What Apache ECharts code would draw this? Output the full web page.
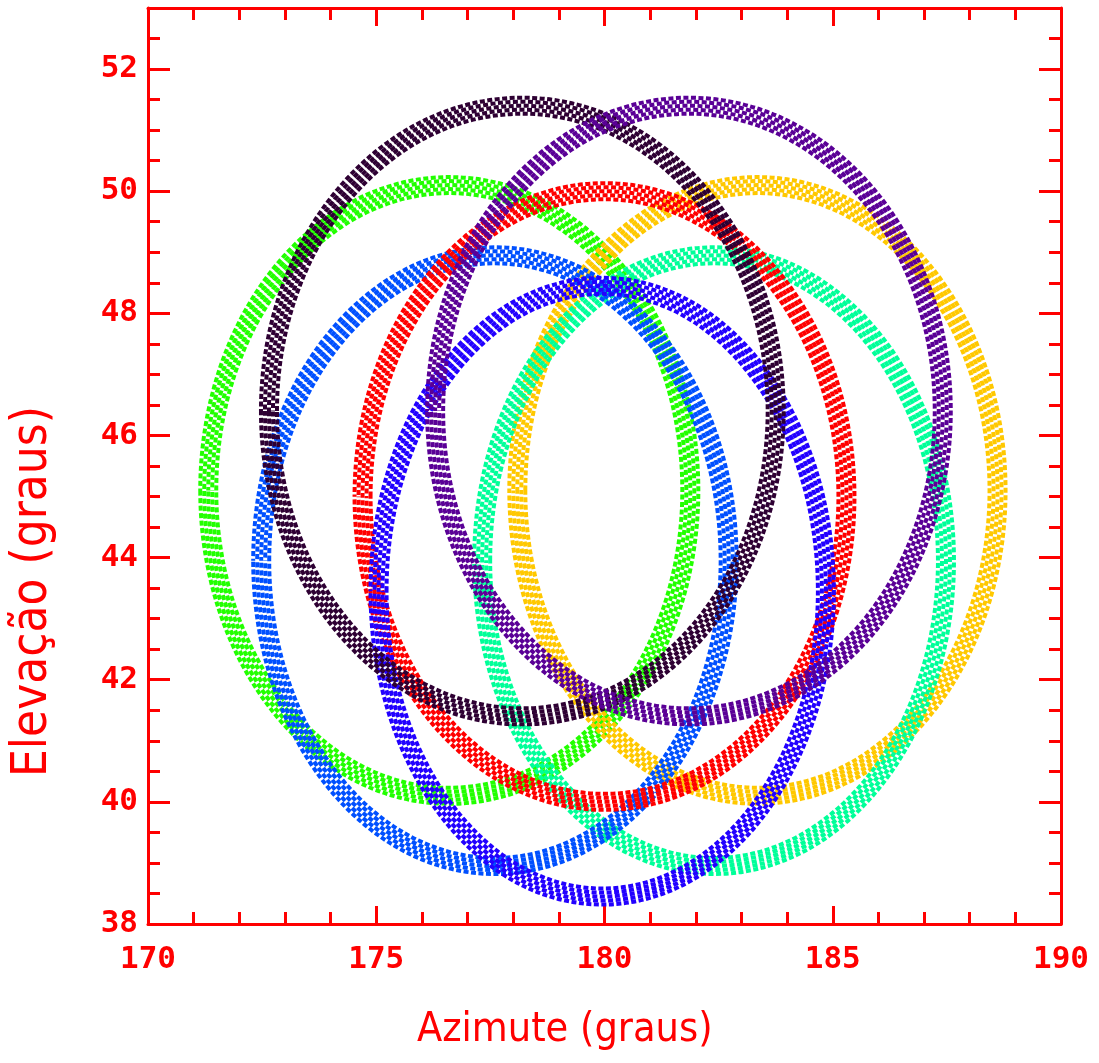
<!DOCTYPE html>
<html>
<head>
<meta charset="utf-8">
<script src="https://cdn.jsdelivr.net/npm/echarts@6/dist/echarts.min.js"></script>
<style>
html,body{margin:0;padding:0;background:#fff;}
#chart{width:1099px;height:1063px;}
</style>
</head>
<body>
<div id="chart"></div>
<script>
// Ellipse (ring) data: centre and semi-axes in degrees
const ringNames   = ['verde', 'amarelo', 'ciano', 'azul', 'vermelho', 'violeta', 'preto', 'roxo'];
const centerAz    = [176.6, 183.35, 182.4, 177.6, 180.0, 179.95, 178.2, 181.85];
const centerEl    = [45.1, 45.1, 43.95, 43.95, 45.0, 43.45, 46.4, 46.4];
const radiusAz    = [5.28, 5.26, 5.08, 5.12, 5.3, 4.9, 5.55, 5.56];
const radiusEl    = [5.0, 5.0, 5.0, 5.0, 5.0, 5.0, 5.0, 5.0];
const ringColors  = ['#22ff00', '#ffc800', '#00ff99', '#0050ff', '#ff0000', '#2200ff', '#2e0033', '#5a0096'];

const xTicks = { min: 170, max: 190, interval: 5 };
const yTicks = { min: 38, max: 53, interval: 2 };

const RED = '#ff0000';
const bandOffsets = [-8, -4, 0, 4, 8];
const dashShift = [0, 3, 1, 4, 2];

function ringRenderer(color) {
  return function (params, api) {
    const c = api.coord([api.value(0), api.value(1)]);
    const s = api.size([api.value(2), api.value(3)]);
    const children = bandOffsets.map(function (o, i) {
      return {
        type: 'ellipse',
        shape: { cx: c[0], cy: c[1], rx: s[0] + o, ry: s[1] + o },
        style: { fill: null, stroke: color, lineWidth: 4, lineDash: [5, 2.5], lineDashOffset: dashShift[i] * 1.5 }
      };
    });
    return { type: 'group', children: children };
  };
}

const series = ringNames.map(function (n, i) {
  return {
    name: n,
    type: 'custom',
    xAxisIndex: 0,
    yAxisIndex: 0,
    encode: { x: 0, y: 1 },
    data: [[centerAz[i], centerEl[i], radiusAz[i], radiusEl[i]]],
    renderItem: ringRenderer(ringColors[i]),
    silent: true,
    animation: false
  };
});

function xAxisCfg(pos, showLabel) {
  return {
    type: 'value', position: pos,
    min: xTicks.min, max: xTicks.max, interval: xTicks.interval,
    axisLine: { show: true, onZero: false, lineStyle: { color: RED, width: 3 } },
    axisTick: { show: true, inside: true, length: 18, lineStyle: { color: RED, width: 3 } },
    minorTick: { show: true, splitNumber: 5, length: 12, lineStyle: { color: RED, width: 3 } },
    splitLine: { show: false },
    axisLabel: {
      show: showLabel, color: RED, fontFamily: 'DejaVu Sans Mono', fontWeight: 'bold',
      fontSize: 31, margin: 20
    }
  };
}
function yAxisCfg(pos, showLabel) {
  return {
    type: 'value', position: pos,
    min: yTicks.min, max: yTicks.max, interval: yTicks.interval,
    axisLine: { show: true, onZero: false, lineStyle: { color: RED, width: 3 } },
    axisTick: { show: true, inside: true, length: 22, lineStyle: { color: RED, width: 3 } },
    minorTick: { show: true, splitNumber: 4, length: 12, lineStyle: { color: RED, width: 3 } },
    splitLine: { show: false },
    axisLabel: {
      show: showLabel, color: RED, fontFamily: 'DejaVu Sans Mono', fontWeight: 'bold',
      fontSize: 31, margin: 10,
      formatter: function (v) { return v > 52 ? '' : String(v); }
    }
  };
}

const chart = echarts.init(document.getElementById('chart'), null, { renderer: 'canvas' });
chart.setOption({
  animation: false,
  backgroundColor: '#ffffff',
  grid: { left: 148, right: 38, top: 8, bottom: 139 },
  xAxis: [xAxisCfg('bottom', true), xAxisCfg('top', false)],
  yAxis: [yAxisCfg('left', true), yAxisCfg('right', false)],
  series: series,
  graphic: [
    {
      type: 'text', left: 417, top: 1010,
      style: { text: 'Azimute (graus)', fill: RED, font: '300 41px "Liberation Sans Narrow", "DejaVu Sans Condensed", sans-serif' }
    },
    {
      type: 'text', x: 9, y: 777, rotation: Math.PI / 2,
      style: { text: 'Elevação (graus)', fill: RED, font: '300 49px "Liberation Sans Narrow", "DejaVu Sans Condensed", sans-serif' }
    }
  ]
});
</script>
</body>
</html>
